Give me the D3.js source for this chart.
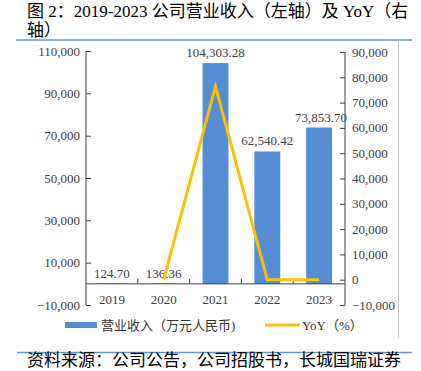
<!DOCTYPE html>
<html><head><meta charset="utf-8">
<script src="https://cdn.jsdelivr.net/npm/d3@7"></script>
<style>
html,body{margin:0;padding:0;background:#fff;}
svg{display:block;}
</style></head>
<body>
<svg id="c" width="421" height="371"></svg>
<script>
const years = ["2019","2020","2021","2022","2023"];
const revenue = [124.70, 136.36, 104303.28, 62540.42, 73853.70];
const revenueLabels = ["124.70","136.36","104,303.28","62,540.42","73,853.70"];
const yoy = [null, 9.35, 76391.1, -40.04, 18.09];
const leftTicks = [-10000, 10000, 30000, 50000, 70000, 90000, 110000];
const rightTicks = [-10000, 0, 10000, 20000, 30000, 40000, 50000, 60000, 70000, 80000, 90000];
const titleLines = ["图 2：2019-2023 公司营业收入（左轴）及 YoY（右", "轴）"];
const legendNames = ["营业收入（万元人民币)", "YoY（%）"];
const sourceText = "资料来源：公司公告，公司招股书，长城国瑞证券";

const svg = d3.select("#c");
const serif = "'Liberation Serif','Times New Roman',serif";
const cjk = "'Liberation Serif','Noto Sans CJK SC',sans-serif";

// title
svg.selectAll("text.title").data(titleLines).enter().append("text")
  .attr("x", 27).attr("y", (d,i)=>17 + i*19)
  .attr("font-family", cjk).attr("font-size", 17).attr("fill", "#000")
  .text(d=>d);

// top and bottom blue rules
svg.append("line").attr("x1",16).attr("x2",412).attr("y1",40).attr("y2",40)
  .attr("stroke","#5B9BD5").attr("stroke-width",1.5);
svg.append("line").attr("x1",17).attr("x2",412).attr("y1",352.5).attr("y2",352.5)
  .attr("stroke","#5B9BD5").attr("stroke-width",1.5);
// gray right border
svg.append("line").attr("x1",398.5).attr("x2",398.5).attr("y1",40).attr("y2",338)
  .attr("stroke","#c8c8c8").attr("stroke-width",1);

// source
svg.append("text").attr("x",27).attr("y",366)
  .attr("font-family","'Noto Sans CJK SC',sans-serif").attr("font-size",17).attr("fill","#000")
  .text(sourceText);

const x0 = 86, x1 = 345;
const x = d3.scaleBand().domain(years).range([x0, x1]).paddingInner(0.5).paddingOuter(0.25);
const xb = d3.scaleBand().domain(years).range([x0, x1]);
const yL = d3.scaleLinear().domain([-10000, 110000]).range([305, 51]);
const yR = d3.scaleLinear().domain([-10000, 90000]).range([305, 52]);

const axisColor = "#404040";
// left axis
const gL = svg.append("g").attr("transform", `translate(${x0},0)`)
  .call(d3.axisRight(yL).tickValues(leftTicks).tickSize(5).tickFormat(""));
gL.select(".domain").remove();
gL.selectAll(".tick line").attr("stroke", axisColor);
svg.append("line").attr("x1",x0).attr("x2",x0).attr("y1",yL(110000)).attr("y2",yL(-10000)).attr("stroke",axisColor);
svg.selectAll("text.lt").data(leftTicks).enter().append("text")
  .attr("x", 80).attr("y", d=>yL(d)+4.5).attr("text-anchor","end")
  .attr("font-family", serif).attr("font-size", 13).attr("fill","#404040")
  .text(d=>d3.format(",")(d));

// right axis
const gR = svg.append("g").attr("transform", `translate(${x1},0)`)
  .call(d3.axisLeft(yR).tickValues(rightTicks).tickSize(5).tickFormat(""));
gR.select(".domain").remove();
gR.selectAll(".tick line").attr("stroke", axisColor);
svg.append("line").attr("x1",x1).attr("x2",x1).attr("y1",yR(90000)).attr("y2",yR(-10000)).attr("stroke",axisColor);
svg.selectAll("text.rt").data(rightTicks).enter().append("text")
  .attr("x", 352).attr("y", d=>yR(d)+4.5).attr("text-anchor","start")
  .attr("font-family", serif).attr("font-size", 13).attr("fill","#404040")
  .text(d=>d3.format(",")(d));

// bars
svg.selectAll("rect.bar").data(revenue).enter().append("rect")
  .attr("x", (d,i)=>x(years[i])).attr("width", x.bandwidth())
  .attr("y", d=>yL(d)).attr("height", d=>Math.max(0, yL(0)-yL(d)))
  .attr("fill", "#558ED5");

// x axis
const y0 = yL(0);
svg.append("line").attr("x1",x0).attr("x2",x1).attr("y1",y0).attr("y2",y0).attr("stroke",axisColor);
const gX = svg.append("g").attr("transform", `translate(0,${y0})`)
  .call(d3.axisTop(xb).tickSize(0).tickFormat(""));
gX.select(".domain").remove();
const bounds = years.slice(1).map(y=>xb(y));
svg.selectAll("line.xt").data(bounds).enter().append("line")
  .attr("x1",d=>d).attr("x2",d=>d).attr("y1",y0-5).attr("y2",y0).attr("stroke",axisColor);
svg.selectAll("text.xl").data(years).enter().append("text")
  .attr("x", d=>xb(d)+xb.bandwidth()/2).attr("y", 304).attr("text-anchor","middle")
  .attr("font-family", serif).attr("font-size", 13).attr("fill","#404040")
  .text(d=>d);

// bar labels
svg.selectAll("text.bl").data(revenue).enter().append("text")
  .attr("x", (d,i)=>xb(years[i])+xb.bandwidth()/2 + (i===4?2:0)).attr("y", d=>yL(d)-6)
  .attr("text-anchor","middle")
  .attr("font-family", serif).attr("font-size", 13).attr("fill","#404040")
  .text((d,i)=>revenueLabels[i]);

// yoy line
const pts = yoy.map((v,i)=>({v, i})).filter(p=>p.v!==null);
const line = d3.line().x(p=>xb(years[p.i])+xb.bandwidth()/2).y(p=>yR(p.v));
svg.append("path").datum(pts).attr("d", line)
  .attr("fill","none").attr("stroke","#FFC000").attr("stroke-width",3);

// legend
svg.append("rect").attr("x",65).attr("y",322).attr("width",32).attr("height",6).attr("fill","#558ED5");
svg.append("text").attr("x",101).attr("y",330)
  .attr("font-family", cjk).attr("font-size", 13).attr("fill","#333").text(legendNames[0]);
svg.append("line").attr("x1",265).attr("x2",300).attr("y1",325).attr("y2",325)
  .attr("stroke","#FFC000").attr("stroke-width",3);
svg.append("text").attr("x",302).attr("y",330)
  .attr("font-family", cjk).attr("font-size", 13).attr("fill","#333").text(legendNames[1]);
</script>
</body></html>
